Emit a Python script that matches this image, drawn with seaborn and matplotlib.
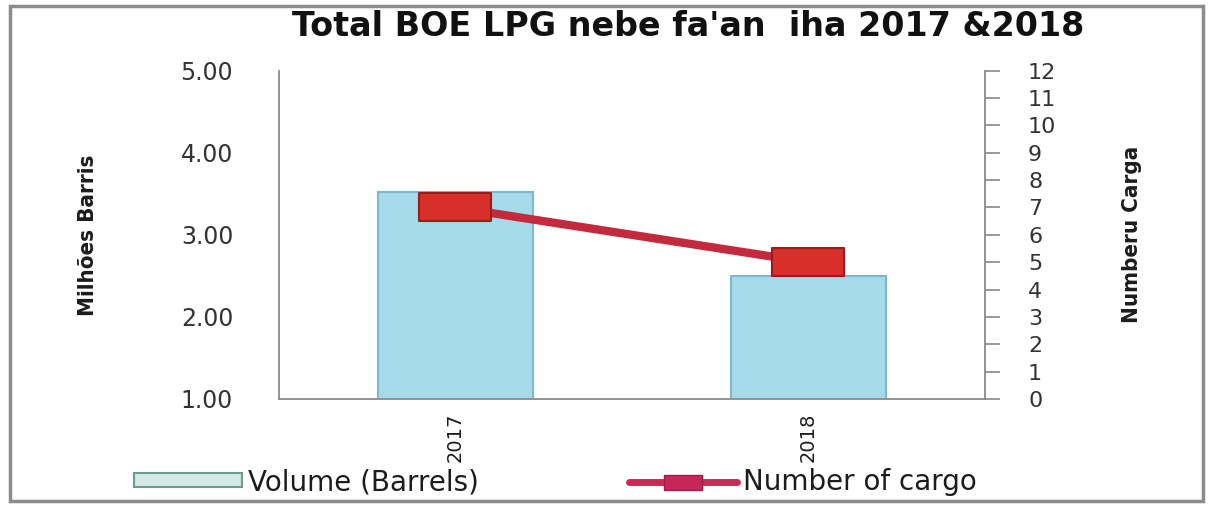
import numpy as np
import matplotlib
matplotlib.use("Agg")
import matplotlib.pyplot as plt
from matplotlib.path import Path
from matplotlib.patches import Rectangle, Patch
from matplotlib.lines import Line2D
from matplotlib.ticker import FormatStrFormatter
import seaborn as sns

# ---- data ----
years = ["2017", "2018"]
volume_mbbl = [3.52, 2.50]      # million barrels (left axis)
cargo_count = [7, 5]            # number of cargoes (right axis)
left_ticks = [1.0, 2.0, 3.0, 4.0, 5.0]
right_ticks = list(range(0, 13))

title = "Total BOE LPG nebe fa'an  iha 2017 &2018"
left_label = "Milhões Barris"
right_label = "Numberu Carga"
legend_labels = ["Volume (Barrels)", "Number of cargo"]

# ---- style ----
sns.set_theme(style="white")
plt.rcParams["font.family"] = ["DejaVu Sans"]
text_col = "#1c1c1c"
tick_col = "#333333"
spine_col = "#8a8a8a"
bar_face = "#a6d9ea"
bar_edge = "#7cb9cd"
line_col = "#c42a3e"
marker_face = "#d7302a"
marker_edge = "#9c1c1c"
axis_title_font = dict(family="DejaVu Sans", fontstretch="condensed",
                       fontweight="bold", fontsize=16, color=text_col)

fig = plt.figure(figsize=(12.15, 5.08), dpi=100)
fig.patch.set_facecolor("white")

# outer chart frame
fig.patches.append(Rectangle((0.008, 0.014), 0.982, 0.975, transform=fig.transFigure,
                             fill=False, edgecolor="#8c8c8c", linewidth=2.5, zorder=0))

ax = fig.add_axes([0.2296, 0.2146, 0.5811, 0.6462])

# volume bars
sns.barplot(x=years, y=volume_mbbl, ax=ax, color=bar_face, saturation=1,
            width=0.44, edgecolor=bar_edge, linewidth=1.5, errorbar=None)
ax.set_xlim(-0.5, len(years) - 0.5)
ax.set_ylim(left_ticks[0], left_ticks[-1])
ax.set_yticks(left_ticks)
ax.yaxis.set_major_formatter(FormatStrFormatter("%.2f"))
ax.tick_params(axis="y", length=0, pad=33, labelsize=17, labelcolor=tick_col)
ax.tick_params(axis="x", length=0, pad=10, labelsize=14, labelcolor=text_col,
               labelrotation=90)
ax.set_xlabel("")
ax.set_ylabel(left_label, **axis_title_font)
ax.yaxis.set_label_coords(-0.2705, 0.5)
ax.yaxis.label.set_va("center")
ax.yaxis.label.set_ha("center")
for side in ("top", "right"):
    ax.spines[side].set_visible(False)
for side in ("left", "bottom"):
    ax.spines[side].set_color(spine_col)
    ax.spines[side].set_linewidth(1.3)

# cargo count on the secondary axis
ax2 = ax.twinx()
rect_marker = Path([(-1.0, -0.4), (1.0, -0.4), (1.0, 0.4), (-1.0, 0.4), (-1.0, -0.4)],
                   [Path.MOVETO, Path.LINETO, Path.LINETO, Path.LINETO, Path.CLOSEPOLY])
xpos = np.arange(len(years))
sns.lineplot(x=xpos, y=cargo_count, ax=ax2, color=line_col, linewidth=6,
             marker=rect_marker, markersize=52, markerfacecolor=marker_face,
             markeredgecolor=marker_edge, markeredgewidth=1.5, legend=False)
ax2.set_xlim(-0.5, len(years) - 0.5)
ax2.set_ylim(right_ticks[0], right_ticks[-1])
ax2.set_yticks(right_ticks)
ax2.tick_params(axis="y", right=True, direction="out", length=11, width=1.2,
                color=spine_col, pad=20, labelsize=16, labelcolor=tick_col)
ax2.set_ylabel(right_label, rotation=90, **axis_title_font)
ax2.yaxis.set_label_coords(1.2075, 0.5)
ax2.yaxis.label.set_va("center")
ax2.yaxis.label.set_ha("center")
for side in ("top", "left", "bottom"):
    ax2.spines[side].set_visible(False)
ax2.spines["right"].set_color(spine_col)
ax2.spines["right"].set_linewidth(1.3)

# title
fig.text(0.566, 0.948, title, ha="center", va="center", fontsize=24,
         fontweight="bold", color="#111111")

# legend
handles = [
    Patch(facecolor="#d3e9e3", edgecolor="#6f9a91", linewidth=1.5),
    Line2D([0], [0], color="#cc2b55", linewidth=5, marker=rect_marker,
           markersize=27, markerfacecolor="#c8265a", markeredgecolor="#a01c46"),
]
fig.legend(handles, legend_labels, loc="center left",
           bbox_to_anchor=(120 / 1215, 1 - 482 / 508), ncol=2, frameon=False,
           fontsize=20, handlelength=3.9, handleheight=0.35, handletextpad=0.2,
           columnspacing=5.4, borderpad=0, labelcolor=text_col)

fig.savefig("out.png", dpi=100, facecolor="white")
